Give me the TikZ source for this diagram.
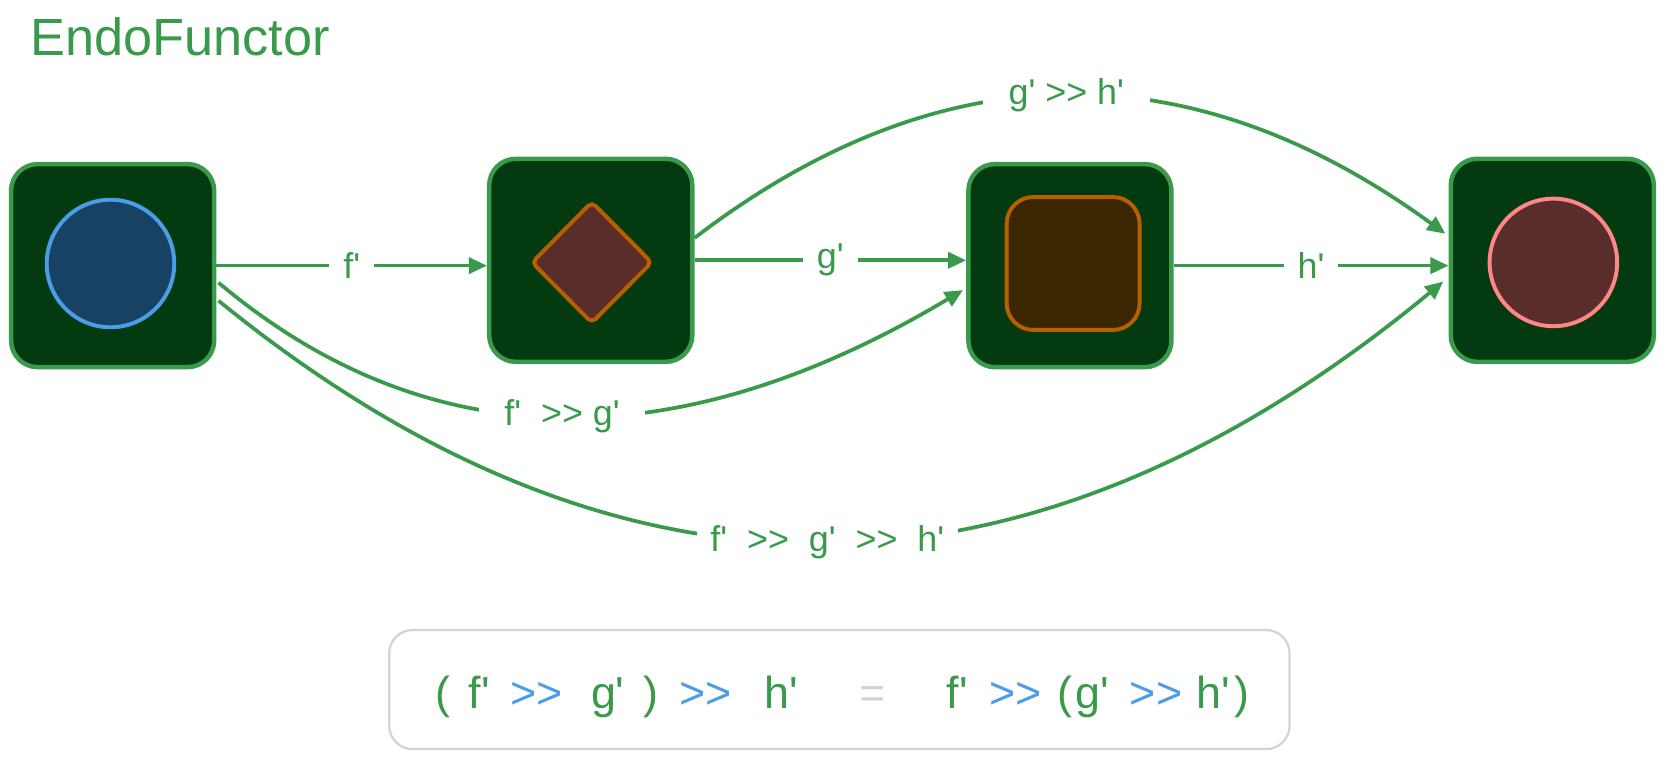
\documentclass[tikz,border=0pt]{standalone}
\usepackage{fontspec}
\newfontfamily\lblfont{Liberation Sans}
\usepackage{tikz}
\usetikzlibrary{
  positioning,
  calc,
  arrows.meta,
  shapes.geometric
}

\definecolor{exGreen}{HTML}{3A9A4B}
\definecolor{boxFill}{HTML}{043A0F}
\definecolor{blueFill}{HTML}{184263}
\definecolor{blueLine}{HTML}{4A9EE8}
\definecolor{redFill}{HTML}{5A2D2D}
\definecolor{brownLine}{HTML}{B85F00}
\definecolor{brownFill}{HTML}{3A2600}
\definecolor{pinkLine}{HTML}{FF8787}
\definecolor{paleGray}{HTML}{D4D4D4}

\tikzset{
  objbox/.style={draw=exGreen, fill=boxFill, line width=1.2pt, rounded corners=0.25cm,
    minimum width=1.91cm, minimum height=1.91cm},
  inshape/.style={line width=1.05pt, inner sep=0pt},
  arr/.style={exGreen, line width=1pt, -{Triangle[length=0.17cm,width=0.15cm]}},
  lbl/.style={fill=white, text=exGreen, font=\lblfont\fontsize{9.6}{11}\selectfont,
    inner xsep=0.13cm, inner ysep=0.06cm},
  curvelbl/.style={lbl, inner xsep=0.24cm},
  eqtok/.style={anchor=base, inner sep=0pt, font=\lblfont\fontsize{12}{14}\selectfont}
}

\begin{document}
\begin{tikzpicture}[x=0.01cm, y=-0.01cm]
  \useasboundingbox (0,0) rectangle (1568,715);

  \node[anchor=base west, inner sep=0pt, text=exGreen, font=\lblfont\fontsize{14}{16}\selectfont] (title) at (28,52) {EndoFunctor};

  \node[objbox] (A) at (106,250) {};
  \node[objbox] (B) at (556,245) {};
  \node[objbox] (C) at (1007,250) {};
  \node[objbox] (D) at (1461,245) {};

  \node[inshape, circle, draw=blueLine, fill=blueFill, minimum size=1.2cm] (a) at (104,248) {};
  \node[inshape, diamond, draw=brownLine, fill=redFill, minimum width=1.14cm, minimum height=1.15cm,
    rounded corners=0.05cm] (b) at (557,247) {};
  \node[inshape, rectangle, draw=brownLine, fill=brownFill, minimum size=1.25cm,
    rounded corners=0.25cm] (c) at (1010,248) {};
  \node[inshape, circle, draw=pinkLine, fill=redFill, minimum size=1.2cm] (d) at (1462,247) {};

  \draw[arr] (A.east) -- (A.east -| B.west) node[lbl, midway] {f'};
  \draw[arr] (B.east) -- (B.east -| C.west) node[lbl, midway] {g'};
  \draw[arr] (C.east) -- (C.east -| D.west) node[lbl, midway] {h'};

  \draw[arr] ($(B.east)+(0,-21)$) .. controls (885,47) and (1120,45) .. ($(D.west)+(-3,-25)$)
    node[curvelbl, pos=.5] {g' >> h'};
  \draw[arr] ($(A.east)+(2,16)$) .. controls (403,432) and (637,434) .. ($(C.west)+(-3,23)$)
    node[curvelbl, pos=.5] {f'\ \ >> g'};
  \draw[arr] ($(A.east)+(2,33)$) .. controls (585,592) and (970,586) .. ($(D.west)+(-5,20)$)
    node[lbl, pos=.5] {f'\ \ >>\ \ g'\ \ >>\ \ h'};

  \node[draw=paleGray, fill=white, line width=0.6pt, rounded corners=0.22cm,
    minimum width=8.47cm, minimum height=1.12cm] (law) at (790,649) {};
  \foreach \x/\t/\c in {417/{(}/exGreen, 451/f'/exGreen, 505/>>/blueLine, 572/g'/exGreen,
    613/{)}/exGreen, 664/>>/blueLine, 735/h'/exGreen, 821/=/paleGray, 901/f'/exGreen,
    956/>>/blueLine, 1002/{(}/exGreen, 1028/g'/exGreen, 1088/>>/blueLine, 1142/h'/exGreen,
    1169/{)}/exGreen}
    \node[eqtok, text=\c] at (\x,667) {\t};
\end{tikzpicture}
\end{document}
